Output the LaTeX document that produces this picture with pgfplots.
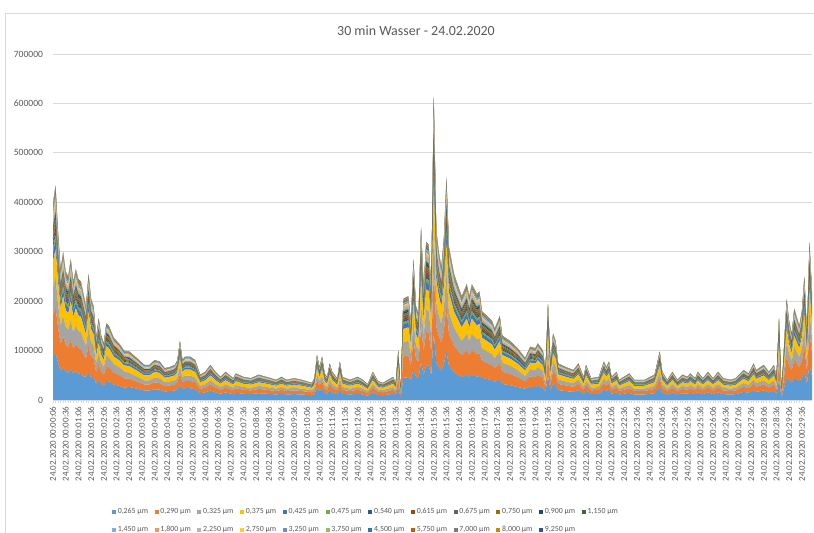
\documentclass[border=0pt]{standalone}
\usepackage{pgfplots}
\pgfplotsset{compat=1.18}
\usepackage{pgfplotstable}
\usepackage{fontspec}
\setmainfont{Carlito}
\definecolor{c1}{HTML}{5B9BD5}
\definecolor{c2}{HTML}{ED7D31}
\definecolor{c3}{HTML}{A5A5A5}
\definecolor{c4}{HTML}{FFC000}
\definecolor{c5}{HTML}{4472C4}
\definecolor{c6}{HTML}{70AD47}
\definecolor{c7}{HTML}{255E91}
\definecolor{c8}{HTML}{9E480E}
\definecolor{c9}{HTML}{636363}
\definecolor{c10}{HTML}{997300}
\definecolor{c11}{HTML}{264478}
\definecolor{c12}{HTML}{43682B}
\definecolor{c13}{HTML}{7CAFDD}
\definecolor{c14}{HTML}{F1975A}
\definecolor{c15}{HTML}{B7B7B7}
\definecolor{c16}{HTML}{FFCD33}
\definecolor{c17}{HTML}{698ED0}
\definecolor{c18}{HTML}{8CC168}
\definecolor{c19}{HTML}{2E75B6}
\definecolor{c20}{HTML}{C55A11}
\definecolor{c21}{HTML}{7B7B7B}
\definecolor{c22}{HTML}{BF9000}
\definecolor{c23}{HTML}{2F5597}
\definecolor{txt}{HTML}{595959}
\definecolor{grd}{HTML}{D9D9D9}
% values in units of 100 particles
\pgfplotstableread{
x b o g y s5 s6 s7 s8 s9 s10 s11 s12 s13 s14 s15 s16 s17 s18 s19 s20 s21 s22 s23
0 880 840 560 520 180 92 84 84 72 72 60 60 60 60 60 48 48 36 36 36 48 36 24
1 957 914 609 566 196 100 91 91 78 78 65 65 65 65 65 52 52 39 39 39 52 39 26
2 748 714 476 442 153 78 71 71 61 61 51 51 51 51 51 41 41 31 31 31 41 31 20
3 583 557 371 345 119 61 56 56 48 48 40 40 40 40 40 32 32 24 24 24 32 24 16
4 660 630 420 390 135 69 63 63 54 54 45 45 45 45 45 36 36 27 27 27 36 27 18
5 572 546 364 338 117 60 55 55 47 47 39 39 39 39 39 31 31 23 23 23 31 23 16
6 550 525 350 325 113 58 53 53 45 45 38 38 38 38 38 30 30 23 23 23 30 23 15
7 627 599 399 371 128 66 60 60 51 51 43 43 43 43 43 34 34 26 26 26 34 26 17
8 528 504 336 312 108 55 50 50 43 43 36 36 36 36 36 29 29 22 22 22 29 22 14
9 583 557 371 345 119 61 56 56 48 48 40 40 40 40 40 32 32 24 24 24 32 24 16
10 539 515 343 319 110 56 51 51 44 44 37 37 37 37 37 29 29 22 22 22 29 22 15
11 528 504 336 312 108 55 50 50 43 43 36 36 36 36 36 29 29 22 22 22 29 22 14
12 473 452 301 280 97 49 45 45 39 39 32 32 32 32 32 26 26 19 19 19 26 19 13
13 475 361 266 228 86 44 40 40 34 34 29 29 29 29 29 23 23 17 17 17 23 17 11
14 561 536 357 332 115 59 54 54 46 46 38 38 38 38 38 31 31 23 23 23 31 23 15
15 451 431 287 267 92 47 43 43 37 37 31 31 31 31 31 25 25 18 18 18 25 18 12
16 475 361 266 228 86 44 40 40 34 34 29 29 29 29 29 23 23 17 17 17 23 17 11
17 320 243 179 154 58 29 27 27 23 23 19 19 19 19 19 15 15 12 12 12 15 12 8
18 413 314 231 198 74 38 35 35 30 30 25 25 25 25 25 20 20 15 15 15 20 15 10
19 325 247 182 156 59 30 27 27 23 23 20 20 20 20 20 16 16 12 12 12 16 12 8
20 288 219 161 138 52 26 24 24 21 21 17 17 17 17 17 14 14 10 10 10 14 10 7
21 388 295 217 186 70 36 33 33 28 28 23 23 23 23 23 19 19 14 14 14 19 14 9
22 375 285 210 180 68 35 32 32 27 27 23 23 23 23 23 18 18 14 14 14 18 14 9
24 313 238 175 150 56 29 26 26 23 23 19 19 19 19 19 15 15 11 11 11 15 11 8
26 288 219 161 138 52 26 24 24 21 21 17 17 17 17 17 14 14 10 10 10 14 10 7
28 250 190 140 120 45 23 21 21 18 18 15 15 15 15 15 12 12 9 9 9 12 9 6
30 265 167 118 137 44 23 21 21 18 18 15 15 15 15 15 12 12 9 9 9 12 9 6
33 230 145 102 119 38 20 18 18 15 15 13 13 13 13 13 10 10 8 8 8 10 8 5
36 192 121 85 99 32 16 15 15 13 13 11 11 11 11 11 9 9 6 6 6 9 6 4
38 192 121 85 99 32 16 15 15 13 13 11 11 11 11 11 9 9 6 6 6 9 6 4
40 219 138 97 113 36 19 17 17 15 15 12 12 12 12 12 10 10 7 7 7 10 7 5
42 211 133 94 109 35 18 16 16 14 14 12 12 12 12 12 9 9 7 7 7 9 7 5
44 173 109 77 90 29 15 13 13 12 12 10 10 10 10 10 8 8 6 6 6 8 6 4
46 181 114 80 94 30 15 14 14 12 12 10 10 10 10 10 8 8 6 6 6 8 6 4
48 192 121 85 99 32 16 15 15 13 13 11 11 11 11 11 9 9 6 6 6 9 6 4
49 219 138 97 113 36 19 17 17 15 15 12 12 12 12 12 10 10 7 7 7 10 7 5
50 300 228 168 144 54 28 25 25 22 22 18 18 18 18 18 14 14 11 11 11 14 11 7
51 219 138 97 113 36 19 17 17 15 15 12 12 12 12 12 10 10 7 7 7 10 7 5
52 238 150 106 123 40 20 18 18 16 16 13 13 13 13 13 11 11 8 8 8 11 8 5
54 238 150 106 123 40 20 18 18 16 16 13 13 13 13 13 11 11 8 8 8 11 8 5
56 219 138 97 113 36 19 17 17 15 15 12 12 12 12 12 10 10 7 7 7 10 7 5
58 138 87 61 71 23 12 11 11 9 9 8 8 8 8 8 6 6 5 5 5 6 5 3
60 154 97 68 80 26 13 12 12 10 10 9 9 9 9 9 7 7 5 5 5 7 5 3
62 192 121 85 99 32 16 15 15 13 13 11 11 11 11 11 9 9 6 6 6 9 6 4
64 154 97 68 80 26 13 12 12 10 10 9 9 9 9 9 7 7 5 5 5 7 5 3
66 127 80 56 66 21 11 10 10 8 8 7 7 7 7 7 6 6 4 4 4 6 4 3
68 154 97 68 80 26 13 12 12 10 10 9 9 9 9 9 7 7 5 5 5 7 5 3
71 119 75 53 62 20 10 9 9 8 8 7 7 7 7 7 5 5 4 4 4 5 4 3
72 146 92 65 76 24 12 11 11 10 10 8 8 8 8 8 6 6 5 5 5 6 5 3
75 127 80 56 66 21 11 10 10 8 8 7 7 7 7 7 6 6 4 4 4 6 4 3
78 119 75 53 62 20 10 9 9 8 8 7 7 7 7 7 5 5 4 4 4 5 4 3
81 138 87 61 71 23 12 11 11 9 9 8 8 8 8 8 6 6 5 5 5 6 5 3
84 127 80 56 66 21 11 10 10 8 8 7 7 7 7 7 6 6 4 4 4 6 4 3
88 111 70 49 57 18 9 9 9 7 7 6 6 6 6 6 5 5 4 4 4 5 4 2
90 127 80 56 66 21 11 10 10 8 8 7 7 7 7 7 6 6 4 4 4 6 4 3
92 111 70 49 57 18 9 9 9 7 7 6 6 6 6 6 5 5 4 4 4 5 4 2
95 119 75 53 62 20 10 9 9 8 8 7 7 7 7 7 5 5 4 4 4 5 4 3
98 111 70 49 57 18 9 9 9 7 7 6 6 6 6 6 5 5 4 4 4 5 4 2
102 95 60 42 49 16 8 7 7 6 6 5 5 5 5 5 4 4 3 3 3 4 3 2
103 119 75 53 62 20 10 9 9 8 8 7 7 7 7 7 5 5 4 4 4 5 4 3
104 246 155 109 127 41 21 19 19 16 16 14 14 14 14 14 11 11 8 8 8 11 8 5
105 181 114 80 94 30 15 14 14 12 12 10 10 10 10 10 8 8 6 6 6 8 6 4
106 238 150 106 123 40 20 18 18 16 16 13 13 13 13 13 11 11 8 8 8 11 8 5
107 146 92 65 76 24 12 11 11 10 10 8 8 8 8 8 6 6 5 5 5 6 5 3
108 127 80 56 66 21 11 10 10 8 8 7 7 7 7 7 6 6 4 4 4 6 4 3
109 200 126 89 104 33 17 16 16 13 13 11 11 11 11 11 9 9 7 7 7 9 7 4
110 154 97 68 80 26 13 12 12 10 10 9 9 9 9 9 7 7 5 5 5 7 5 3
112 119 75 53 62 20 10 9 9 8 8 7 7 7 7 7 5 5 4 4 4 5 4 3
113 211 133 94 109 35 18 16 16 14 14 12 12 12 12 12 9 9 7 7 7 9 7 5
114 127 80 56 66 21 11 10 10 8 8 7 7 7 7 7 6 6 4 4 4 6 4 3
117 111 70 49 57 18 9 9 9 7 7 6 6 6 6 6 5 5 4 4 4 5 4 2
120 127 80 56 66 21 11 10 10 8 8 7 7 7 7 7 6 6 4 4 4 6 4 3
122 111 70 49 57 18 9 9 9 7 7 6 6 6 6 6 5 5 4 4 4 5 4 2
124 86 54 38 45 14 7 7 7 6 6 5 5 5 5 5 4 4 3 3 3 4 3 2
126 154 97 68 80 26 13 12 12 10 10 9 9 9 9 9 7 7 5 5 5 7 5 3
128 103 65 46 53 17 9 8 8 7 7 6 6 6 6 6 5 5 3 3 3 5 3 2
130 95 60 42 49 16 8 7 7 6 6 5 5 5 5 5 4 4 3 3 3 4 3 2
132 111 70 49 57 18 9 9 9 7 7 6 6 6 6 6 5 5 4 4 4 5 4 2
134 127 80 56 66 21 11 10 10 8 8 7 7 7 7 7 6 6 4 4 4 6 4 3
135 95 60 42 49 16 8 7 7 6 6 5 5 5 5 5 4 4 3 3 3 4 3 2
136 250 190 140 120 45 23 21 21 18 18 15 15 15 15 15 12 12 9 9 9 12 9 6
137 49 31 22 25 8 4 4 4 3 3 3 3 3 3 3 2 2 2 2 2 2 2 1
138 451 431 287 267 92 47 43 43 37 37 31 31 31 31 31 25 25 18 18 18 25 18 12
140 462 441 294 273 95 48 44 44 38 38 32 32 32 32 32 25 25 19 19 19 25 19 13
141 400 304 224 192 72 37 34 34 29 29 24 24 24 24 24 19 19 14 14 14 19 14 10
142 627 599 399 371 128 66 60 60 51 51 43 43 43 43 43 34 34 26 26 26 34 26 17
143 475 361 266 228 86 44 40 40 34 34 29 29 29 29 29 23 23 17 17 17 23 17 11
144 438 333 245 210 79 40 37 37 32 32 26 26 26 26 26 21 21 16 16 16 21 16 11
145 770 735 490 455 158 81 74 74 63 63 53 53 53 53 53 42 42 32 32 32 42 32 21
146 506 483 322 299 104 53 48 48 41 41 35 35 35 35 35 28 28 21 21 21 28 21 14
147 704 672 448 416 144 74 67 67 58 58 48 48 48 48 48 38 38 29 29 29 38 29 19
148 693 662 441 410 142 72 66 66 57 57 47 47 47 47 47 38 38 28 28 28 38 28 19
149 506 483 322 299 104 53 48 48 41 41 35 35 35 35 35 28 28 21 21 21 28 21 14
150 1353 1292 861 800 277 141 129 129 111 111 92 92 92 92 92 74 74 55 55 55 74 55 37
151 759 725 483 449 155 79 72 72 62 62 52 52 52 52 52 41 41 31 31 31 41 31 21
152 660 630 420 390 135 69 63 63 54 54 45 45 45 45 45 36 36 27 27 27 36 27 18
153 594 567 378 351 122 62 57 57 49 49 41 41 41 41 41 32 32 24 24 24 32 24 16
154 726 693 462 429 149 76 69 69 59 59 50 50 50 50 50 40 40 30 30 30 40 30 20
155 990 945 630 585 203 104 95 95 81 81 68 68 68 68 68 54 54 41 41 41 54 41 27
156 682 651 434 403 140 71 65 65 56 56 47 47 47 47 47 37 37 28 28 28 37 28 19
158 561 536 357 332 115 59 54 54 46 46 38 38 38 38 38 31 31 23 23 23 31 23 15
160 495 473 315 293 101 52 47 47 41 41 34 34 34 34 34 27 27 20 20 20 27 20 14
161 462 441 294 273 95 48 44 44 38 38 32 32 32 32 32 25 25 19 19 19 25 19 13
163 517 494 329 306 106 54 49 49 42 42 35 35 35 35 35 28 28 21 21 21 28 21 14
164 462 441 294 273 95 48 44 44 38 38 32 32 32 32 32 25 25 19 19 19 25 19 13
165 517 494 329 306 106 54 49 49 42 42 35 35 35 35 35 28 28 21 21 21 28 21 14
167 473 452 301 280 97 49 45 45 39 39 32 32 32 32 32 26 26 19 19 19 26 19 13
168 484 462 308 286 99 51 46 46 40 40 33 33 33 33 33 26 26 20 20 20 26 20 13
169 450 342 252 216 81 41 38 38 32 32 27 27 27 27 27 22 22 16 16 16 22 16 11
171 425 323 238 204 77 39 36 36 31 31 26 26 26 26 26 20 20 15 15 15 20 15 10
173 400 304 224 192 72 37 34 34 29 29 24 24 24 24 24 19 19 14 14 14 19 14 10
174 363 276 203 174 65 33 30 30 26 26 22 22 22 22 22 17 17 13 13 13 17 13 9
176 425 323 238 204 77 39 36 36 31 31 26 26 26 26 26 20 20 15 15 15 20 15 10
177 325 247 182 156 59 30 27 27 23 23 20 20 20 20 20 16 16 12 12 12 16 12 8
180 300 228 168 144 54 28 25 25 22 22 18 18 18 18 18 14 14 11 11 11 14 11 7
183 263 200 147 126 47 24 22 22 19 19 16 16 16 16 16 13 13 9 9 9 13 9 6
186 230 145 102 119 38 20 18 18 15 15 13 13 13 13 13 10 10 8 8 8 10 8 5
188 270 205 151 130 49 25 23 23 19 19 16 16 16 16 16 13 13 10 10 10 13 10 6
190 263 200 147 126 47 24 22 22 19 19 16 16 16 16 16 13 13 9 9 9 13 9 6
191 288 219 161 138 52 26 24 24 21 21 17 17 17 17 17 14 14 10 10 10 14 10 7
193 250 190 140 120 45 23 21 21 18 18 15 15 15 15 15 12 12 9 9 9 12 9 6
194 165 104 73 85 27 14 13 13 11 11 9 9 9 9 9 7 7 5 5 5 7 5 4
195 488 371 273 234 88 45 41 41 35 35 29 29 29 29 29 23 23 18 18 18 23 18 12
196 200 126 89 104 33 17 16 16 13 13 11 11 11 11 11 9 9 7 7 7 9 7 4
197 338 257 189 162 61 31 28 28 24 24 20 20 20 20 20 16 16 12 12 12 16 12 8
198 300 228 168 144 54 28 25 25 22 22 18 18 18 18 18 14 14 11 11 11 14 11 7
199 200 126 89 104 33 17 16 16 13 13 11 11 11 11 11 9 9 7 7 7 9 7 4
202 181 114 80 94 30 15 14 14 12 12 10 10 10 10 10 8 8 6 6 6 8 6 4
205 165 104 73 85 27 14 13 13 11 11 9 9 9 9 9 7 7 5 5 5 7 5 4
207 200 126 89 104 33 17 16 16 13 13 11 11 11 11 11 9 9 7 7 7 9 7 4
209 127 80 56 66 21 11 10 10 8 8 7 7 7 7 7 6 6 4 4 4 6 4 3
210 192 121 85 99 32 16 15 15 13 13 11 11 11 11 11 9 9 6 6 6 9 6 4
212 119 75 53 62 20 10 9 9 8 8 7 7 7 7 7 5 5 4 4 4 5 4 3
215 127 80 56 66 21 11 10 10 8 8 7 7 7 7 7 6 6 4 4 4 6 4 3
217 211 133 94 109 35 18 16 16 14 14 12 12 12 12 12 9 9 7 7 7 9 7 5
218 181 114 80 94 30 15 14 14 12 12 10 10 10 10 10 8 8 6 6 6 8 6 4
219 211 133 94 109 35 18 16 16 14 14 12 12 12 12 12 9 9 7 7 7 9 7 5
220 127 80 56 66 21 11 10 10 8 8 7 7 7 7 7 6 6 4 4 4 6 4 3
222 154 97 68 80 26 13 12 12 10 10 9 9 9 9 9 7 7 5 5 5 7 5 3
223 111 70 49 57 18 9 9 9 7 7 6 6 6 6 6 5 5 4 4 4 5 4 2
227 146 92 65 76 24 12 11 11 10 10 8 8 8 8 8 6 6 5 5 5 6 5 3
229 111 70 49 57 18 9 9 9 7 7 6 6 6 6 6 5 5 4 4 4 5 4 2
233 111 70 49 57 18 9 9 9 7 7 6 6 6 6 6 5 5 4 4 4 5 4 2
237 138 87 61 71 23 12 11 11 9 9 8 8 8 8 8 6 6 5 5 5 6 5 3
239 265 167 118 137 44 23 21 21 18 18 15 15 15 15 15 12 12 9 9 9 12 9 6
240 154 97 68 80 26 13 12 12 10 10 9 9 9 9 9 7 7 5 5 5 7 5 3
242 111 70 49 57 18 9 9 9 7 7 6 6 6 6 6 5 5 4 4 4 5 4 2
244 154 97 68 80 26 13 12 12 10 10 9 9 9 9 9 7 7 5 5 5 7 5 3
246 111 70 49 57 18 9 9 9 7 7 6 6 6 6 6 5 5 4 4 4 5 4 2
248 138 87 61 71 23 12 11 11 9 9 8 8 8 8 8 6 6 5 5 5 6 5 3
250 127 80 56 66 21 11 10 10 8 8 7 7 7 7 7 6 6 4 4 4 6 4 3
251 146 92 65 76 24 12 11 11 10 10 8 8 8 8 8 6 6 5 5 5 6 5 3
253 119 75 53 62 20 10 9 9 8 8 7 7 7 7 7 5 5 4 4 4 5 4 3
254 154 97 68 80 26 13 12 12 10 10 9 9 9 9 9 7 7 5 5 5 7 5 3
256 119 75 53 62 20 10 9 9 8 8 7 7 7 7 7 5 5 4 4 4 5 4 3
258 154 97 68 80 26 13 12 12 10 10 9 9 9 9 9 7 7 5 5 5 7 5 3
260 119 75 53 62 20 10 9 9 8 8 7 7 7 7 7 5 5 4 4 4 5 4 3
262 154 97 68 80 26 13 12 12 10 10 9 9 9 9 9 7 7 5 5 5 7 5 3
264 119 75 53 62 20 10 9 9 8 8 7 7 7 7 7 5 5 4 4 4 5 4 3
267 111 70 49 57 18 9 9 9 7 7 6 6 6 6 6 5 5 4 4 4 5 4 2
269 119 75 53 62 20 10 9 9 8 8 7 7 7 7 7 5 5 4 4 4 5 4 3
272 165 104 73 85 27 14 13 13 11 11 9 9 9 9 9 7 7 5 5 5 7 5 4
274 146 92 65 76 24 12 11 11 10 10 8 8 8 8 8 6 6 5 5 5 6 5 3
276 200 126 89 104 33 17 16 16 13 13 11 11 11 11 11 9 9 7 7 7 9 7 4
277 165 104 73 85 27 14 13 13 11 11 9 9 9 9 9 7 7 5 5 5 7 5 4
280 192 121 85 99 32 16 15 15 13 13 11 11 11 11 11 9 9 6 6 6 9 6 4
282 154 97 68 80 26 13 12 12 10 10 9 9 9 9 9 7 7 5 5 5 7 5 3
284 192 121 85 99 32 16 15 15 13 13 11 11 11 11 11 9 9 6 6 6 9 6 4
285 127 80 56 66 21 11 10 10 8 8 7 7 7 7 7 6 6 4 4 4 6 4 3
286 413 314 231 198 74 38 35 35 30 30 25 25 25 25 25 20 20 15 15 15 20 15 10
287 41 26 18 21 7 3 3 3 3 3 2 2 2 2 2 2 2 1 1 1 2 1 1
289 451 431 287 267 92 47 43 43 37 37 31 31 31 31 31 25 25 18 18 18 25 18 12
290 400 304 224 192 72 37 34 34 29 29 24 24 24 24 24 19 19 14 14 14 19 14 10
291 338 257 189 162 61 31 28 28 24 24 20 20 20 20 20 16 16 12 12 12 16 12 8
292 463 352 259 222 83 43 39 39 33 33 28 28 28 28 28 22 22 17 17 17 22 17 11
294 375 285 210 180 68 35 32 32 27 27 23 23 23 23 23 18 18 14 14 14 18 14 9
295 450 342 252 216 81 41 38 38 32 32 27 27 27 27 27 22 22 16 16 16 22 16 11
296 550 525 350 325 113 58 53 53 45 45 38 38 38 38 38 30 30 23 23 23 30 23 15
297 338 257 189 162 61 31 28 28 24 24 20 20 20 20 20 16 16 12 12 12 16 12 8
298 704 672 448 416 144 74 67 67 58 58 48 48 48 48 48 38 38 29 29 29 38 29 19
299 484 462 308 286 99 51 46 46 40 40 33 33 33 33 33 26 26 20 20 20 26 20 13
}\data
\begin{document}
\begin{tikzpicture}
\path[use as bounding box] (0,0) rectangle (814bp,533bp);
\draw[grd, line width=0.75bp] (5bp,0) -- (5bp,520bp) -- (820bp,520bp);
\node[font=\fontsize{14}{16}\selectfont, text=txt] at (416bp,502bp) {30 min Wasser - 24.02.2020};
\begin{axis}[
  at={(53bp,133bp)}, anchor=south west,
  scale only axis, width=759bp, height=346bp,
  xmin=0, xmax=299, ymin=0, ymax=7000,
  stack plots=y,
  separate axis lines,
  axis x line*=bottom, axis y line*=left,
  x axis line style={-, draw=grd, line width=0.75bp},
  y axis line style={draw=none},
  ymajorgrids=true,
  grid style={draw=grd, line width=0.75bp},
  ytick={0,1000,...,7000},
  yticklabels={0,100000,200000,300000,400000,500000,600000,700000},
  ytick style={draw=none},
  yticklabel style={font=\fontsize{9.6}{10}\selectfont, text=txt, xshift=-6.5bp},
  xtick={0,5,...,295},
  minor x tick num=4,
  xtick align=outside,
  major tick length=3bp, minor tick length=3bp,
  xtick style={draw=grd, line width=0.6bp},
  minor x tick style={draw=grd, line width=0.6bp},
  xticklabel style={rotate=90, anchor=east, font=\fontsize{9}{9}\selectfont, text=txt},
  xticklabels={
24.02.2020 00:00:06,24.02.2020 00:00:36,24.02.2020 00:01:06,24.02.2020 00:01:36,
24.02.2020 00:02:06,24.02.2020 00:02:36,24.02.2020 00:03:06,24.02.2020 00:03:36,
24.02.2020 00:04:06,24.02.2020 00:04:36,24.02.2020 00:05:06,24.02.2020 00:05:36,
24.02.2020 00:06:06,24.02.2020 00:06:36,24.02.2020 00:07:06,24.02.2020 00:07:36,
24.02.2020 00:08:06,24.02.2020 00:08:36,24.02.2020 00:09:06,24.02.2020 00:09:36,
24.02.2020 00:10:06,24.02.2020 00:10:36,24.02.2020 00:11:06,24.02.2020 00:11:36,
24.02.2020 00:12:06,24.02.2020 00:12:36,24.02.2020 00:13:06,24.02.2020 00:13:36,
24.02.2020 00:14:06,24.02.2020 00:14:36,24.02.2020 00:15:06,24.02.2020 00:15:36,
24.02.2020 00:16:06,24.02.2020 00:16:36,24.02.2020 00:17:06,24.02.2020 00:17:36,
24.02.2020 00:18:06,24.02.2020 00:18:36,24.02.2020 00:19:06,24.02.2020 00:19:36,
24.02.2020 00:20:06,24.02.2020 00:20:36,24.02.2020 00:21:06,24.02.2020 00:21:36,
24.02.2020 00:22:06,24.02.2020 00:22:36,24.02.2020 00:23:06,24.02.2020 00:23:36,
24.02.2020 00:24:06,24.02.2020 00:24:36,24.02.2020 00:25:06,24.02.2020 00:25:36,
24.02.2020 00:26:06,24.02.2020 00:26:36,24.02.2020 00:27:06,24.02.2020 00:27:36,
24.02.2020 00:28:06,24.02.2020 00:28:36,24.02.2020 00:29:06,24.02.2020 00:29:36},
  legend columns=12,
  legend cell align=left,
  legend image code/.code={\fill[#1] (0bp,-2bp) rectangle (4bp,2bp);},
  legend style={at={(0.0777,-0.314)}, anchor=north west, draw=none, fill=none,
    inner sep=0pt, outer sep=0pt, row sep=11bp,
    font=\fontsize{7.9}{9}\selectfont, text=txt,
    nodes={inner sep=0pt},
    /tikz/every odd column/.append style={column sep=1.8bp},
    /tikz/every even column/.append style={column sep=6.6bp}},
]
\addplot[fill=c1, draw=none] table[x=x,y=b]{\data} \closedcycle; \addlegendentry{0,265 µm}
\addplot[fill=c2, draw=none] table[x=x,y=o]{\data} \closedcycle; \addlegendentry{0,290 µm}
\addplot[fill=c3, draw=none] table[x=x,y=g]{\data} \closedcycle; \addlegendentry{0,325 µm}
\addplot[fill=c4, draw=none] table[x=x,y=y]{\data} \closedcycle; \addlegendentry{0,375 µm}
\addplot[fill=c5, draw=none] table[x=x,y=s5]{\data} \closedcycle; \addlegendentry{0,425 µm}
\addplot[fill=c6, draw=none] table[x=x,y=s6]{\data} \closedcycle; \addlegendentry{0,475 µm}
\addplot[fill=c7, draw=none] table[x=x,y=s7]{\data} \closedcycle; \addlegendentry{0,540 µm}
\addplot[fill=c8, draw=none] table[x=x,y=s8]{\data} \closedcycle; \addlegendentry{0,615 µm}
\addplot[fill=c9, draw=none] table[x=x,y=s9]{\data} \closedcycle; \addlegendentry{0,675 µm}
\addplot[fill=c10, draw=none] table[x=x,y=s10]{\data} \closedcycle; \addlegendentry{0,750 µm}
\addplot[fill=c11, draw=none] table[x=x,y=s11]{\data} \closedcycle; \addlegendentry{0,900 µm}
\addplot[fill=c12, draw=none] table[x=x,y=s12]{\data} \closedcycle; \addlegendentry{1,150 µm}
\addplot[fill=c13, draw=none] table[x=x,y=s13]{\data} \closedcycle; \addlegendentry{1,450 µm}
\addplot[fill=c14, draw=none] table[x=x,y=s14]{\data} \closedcycle; \addlegendentry{1,800 µm}
\addplot[fill=c15, draw=none] table[x=x,y=s15]{\data} \closedcycle; \addlegendentry{2,250 µm}
\addplot[fill=c16, draw=none] table[x=x,y=s16]{\data} \closedcycle; \addlegendentry{2,750 µm}
\addplot[fill=c17, draw=none] table[x=x,y=s17]{\data} \closedcycle; \addlegendentry{3,250 µm}
\addplot[fill=c18, draw=none] table[x=x,y=s18]{\data} \closedcycle; \addlegendentry{3,750 µm}
\addplot[fill=c19, draw=none] table[x=x,y=s19]{\data} \closedcycle; \addlegendentry{4,500 µm}
\addplot[fill=c20, draw=none] table[x=x,y=s20]{\data} \closedcycle; \addlegendentry{5,750 µm}
\addplot[fill=c21, draw=none] table[x=x,y=s21]{\data} \closedcycle; \addlegendentry{7,000 µm}
\addplot[fill=c22, draw=none] table[x=x,y=s22]{\data} \closedcycle; \addlegendentry{8,000 µm}
\addplot[fill=c23, draw=none] table[x=x,y=s23]{\data} \closedcycle; \addlegendentry{9,250 µm}
\end{axis}
\end{tikzpicture}
\end{document}
